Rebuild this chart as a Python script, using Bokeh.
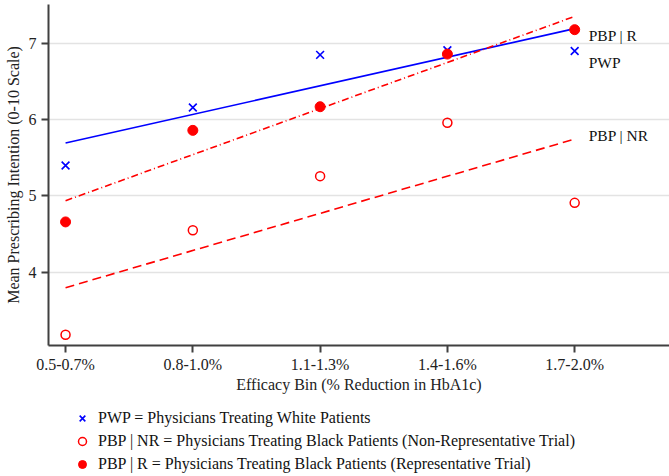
import numpy as np
from bokeh.plotting import figure
from bokeh.layouts import column
from bokeh.models import Range1d, FixedTicker, Legend, LegendItem
from bokeh.core.properties import value
from bokeh.embed import file_html
from bokeh.resources import INLINE

# Efficacy bins and mean prescribing intention per group
bins = ["0.5-0.7%", "0.8-1.0%", "1.1-1.3%", "1.4-1.6%", "1.7-2.0%"]
pwp = [5.40, 6.16, 6.85, 6.91, 6.90]
pbp_nr = [3.18, 4.55, 5.26, 5.96, 4.91]
pbp_r = [4.66, 5.86, 6.17, 6.86, 7.18]

# End-of-line group labels and their vertical placement
end_labels = ["PBP | R", "PWP", "PBP | NR"]
end_label_y = [7.10, 6.75, 5.79]

legend_labels = [
    "PWP = Physicians Treating White Patients",
    "PBP | NR = Physicians Treating Black Patients (Non-Representative Trial)",
    "PBP | R = Physicians Treating Black Patients (Representative Trial)",
]

FONT = "Liberation Serif"
BLUE = "#0000ff"
RED = "#ff0000"
AXIS = "#404040"

xs = np.arange(len(bins))

# Marker styles shared by the chart and its key
styles = [
    dict(marker="x", size=11, line_color=BLUE, line_width=1.6),
    dict(marker="circle", size=9, line_color=RED, fill_color=None, line_width=1.5),
    dict(marker="circle", size=10, line_color=RED, fill_color=RED, line_width=1),
]
series = [pwp, pbp_nr, pbp_r]

p = figure(
    frame_width=621, frame_height=341,
    min_border_left=48, min_border_right=0, min_border_top=4, min_border_bottom=50,
    x_range=Range1d(-0.134, 4.745), y_range=Range1d(3.04, 7.51),
    output_backend="svg", toolbar_location=None,
)
p.outline_line_color = None
p.background_fill_color = "white"
p.border_fill_color = "white"

# Least-squares trend for each group
def trend(vals):
    slope, icpt = np.polyfit(xs, vals, 1)
    ends = np.array([xs[0], xs[-1]], dtype=float)
    return ends, icpt + slope * ends

tx, ty = trend(pwp)
p.line(tx, ty, color=BLUE, line_width=1.6)
tx, ty = trend(pbp_nr)
p.line(tx, ty, color=RED, line_width=1.6, line_dash="9 5")
tx, ty = trend(pbp_r)
p.line(tx, ty, color=RED, line_width=1.6, line_dash="7 3 1 3")

for vals, st in zip(series, styles):
    p.scatter(xs, vals, **st)

p.text(x=[xs[-1]] * 3, y=end_label_y, text=end_labels, x_offset=14,
       text_font=value(FONT), text_font_size="15.5px", text_color="#111111",
       text_baseline="middle", text_align="left")

# Axes
p.xaxis.ticker = FixedTicker(ticks=list(xs))
p.xaxis.major_label_overrides = {int(i): b for i, b in zip(xs, bins)}
p.yaxis.ticker = FixedTicker(ticks=[4, 5, 6, 7])
p.xaxis.axis_label = "Efficacy Bin (% Reduction in HbA1c)"
p.yaxis.axis_label = "Mean Prescribing Intention (0-10 Scale)"
for ax in (p.xaxis, p.yaxis):
    ax.axis_line_color = AXIS
    ax.axis_line_width = 2
    ax.major_tick_line_color = AXIS
    ax.major_tick_line_width = 2
    ax.major_tick_out = 7
    ax.major_tick_in = 0
    ax.minor_tick_line_color = None
    ax.major_label_text_font = FONT
    ax.major_label_text_font_size = "16px"
    ax.major_label_text_color = "#222222"
    ax.axis_label_text_font = FONT
    ax.axis_label_text_font_size = "16px"
    ax.axis_label_text_font_style = "normal"
    ax.axis_label_text_color = "#222222"
p.xaxis.major_label_standoff = 3
p.xaxis.axis_label_standoff = 0
p.yaxis.major_label_standoff = 5
p.yaxis.axis_label_standoff = 4

p.xgrid.grid_line_color = None
p.ygrid.grid_line_color = "#e3e3e3"
p.ygrid.grid_line_width = 1.5

# Key: a strip under the chart whose renderers are hidden, so only the key shows
k = figure(width=669, height=81, min_border=0, x_axis_location=None,
           y_axis_location=None, output_backend="svg", toolbar_location=None)
k.outline_line_color = None
k.xgrid.grid_line_color = None
k.ygrid.grid_line_color = None
key_renderers = []
for vals, st in zip(series, styles):
    r = k.scatter(xs, vals, **st)
    r.visible = False
    key_renderers.append(r)

legend = Legend(
    items=[LegendItem(label=lab, renderers=[r])
           for lab, r in zip(legend_labels, key_renderers)],
    location=(24, 1), orientation="vertical",
    border_line_color=None, background_fill_alpha=0, inactive_fill_alpha=0,
    label_text_font=FONT, label_text_font_size="16px", label_text_color="#111111",
    glyph_width=20, glyph_height=22, label_height=22, spacing=1,
    label_standoff=6, margin=0, padding=0,
)
k.add_layout(legend)

layout = column(p, k, spacing=0)
open("out.html", "w").write(file_html(layout, INLINE))
